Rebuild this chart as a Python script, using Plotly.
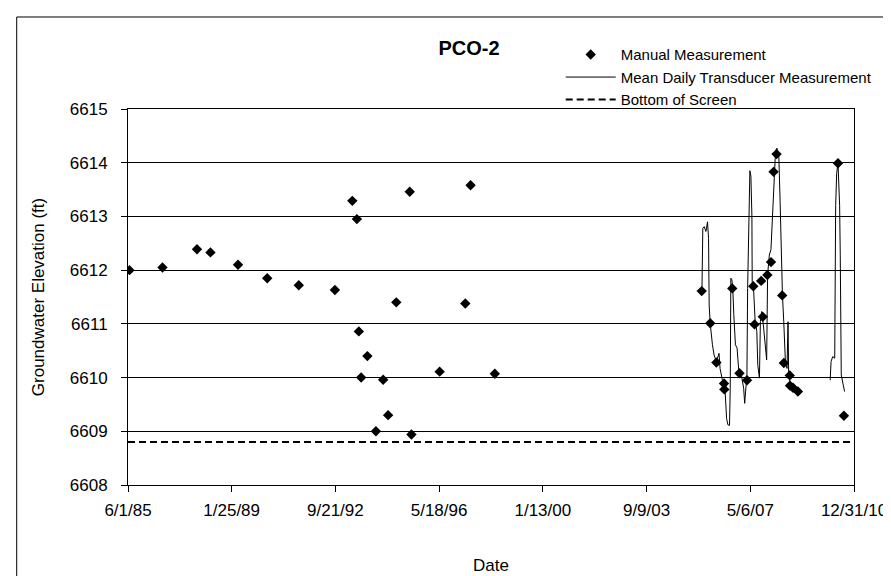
import plotly.graph_objects as go

# manual water level readings (date, elevation ft)
manual_dates = [
    "1985-06-20", "1986-08-19", "1987-11-06", "1988-04-27", "1989-04-17",
    "1990-04-28", "1991-06-08", "1992-09-15", "1993-04-27", "1993-06-25",
    "1993-07-20", "1993-11-07", "1993-08-19", "1994-05-29", "1994-08-01",
    "1994-02-25", "1994-11-14", "1995-05-06", "1995-05-28", "1996-05-25",
    "1997-06-27", "1997-04-20", "1998-05-05",
    "2005-08-19", "2005-12-07", "2006-02-24", "2006-06-02", "2006-06-06",
    "2006-09-16", "2006-12-18", "2007-03-25", "2007-06-14", "2007-06-30",
    "2007-09-23", "2007-10-14", "2007-12-12", "2008-01-28", "2008-03-01",
    "2008-04-08", "2008-06-20", "2008-07-11", "2008-09-25", "2008-09-28",
    "2008-11-06", "2009-01-08", "2010-06-08", "2010-08-23",
]
manual_elev = [
    6612.00, 6612.05, 6612.39, 6612.33, 6612.10,
    6611.85, 6611.72, 6611.63, 6613.29, 6612.95,
    6610.86, 6610.40, 6610.00, 6609.96, 6609.30,
    6609.00, 6611.40, 6613.46, 6608.94, 6610.11,
    6613.58, 6611.38, 6610.07,
    6611.61, 6611.01, 6610.28, 6609.89, 6609.78,
    6611.66, 6610.08, 6609.95, 6611.70, 6610.99,
    6611.80, 6611.13, 6611.91, 6612.15, 6613.83,
    6614.16, 6611.53, 6610.27, 6610.04, 6609.85,
    6609.81, 6609.74, 6613.99, 6609.29,
]

# mean daily transducer record, None = data gap
transducer_dates = [
    "2005-08-22", "2005-09-02", "2005-09-21", "2005-10-12", "2005-11-02",
    "2005-11-15", "2005-11-23", "2005-12-06", "2006-01-04", "2006-01-25",
    "2006-02-24", "2006-03-30", "2006-04-12", "2006-05-11", "2006-06-14",
    "2006-06-22", "2006-07-05", "2006-07-22", "2006-08-12", "2006-08-21",
    "2006-08-29", "2006-09-11", "2006-09-23", "2006-10-06", "2006-10-27",
    "2006-11-17", "2006-12-08", "2007-01-11", "2007-02-10", "2007-02-23",
    "2007-03-11", "2007-03-24", "2007-04-02", "2007-04-14", "2007-05-01",
    "2007-05-14", "2007-05-27", "2007-05-31", "2007-06-17", "2007-07-08",
    "2007-07-29", "2007-08-11", "2007-09-01", "2007-09-13", "2007-09-30",
    "2007-10-21", "2007-11-12", "2007-12-03", "2007-12-15", "2008-01-06",
    "2008-01-27", "2008-02-13", "2008-02-25", "2008-03-09", "2008-03-26",
    "2008-04-12", "2008-05-07", "2008-05-24", "2008-06-10", "2008-06-23",
    "2008-07-10", "2008-07-31", "2008-08-21", "2008-09-03", "2008-09-11",
    "2008-10-02", "2008-11-05", "2008-12-17", "2009-01-28",
    None,
    "2010-02-27", "2010-03-11", "2010-04-01", "2010-04-27", "2010-05-09",
    "2010-05-22", "2010-06-08", "2010-06-21", "2010-06-29", "2010-07-07",
    "2010-07-20", "2010-08-15", "2010-09-01",
]
transducer_elev = [
    6611.60, 6612.78, 6612.81, 6612.72, 6612.90,
    6612.59, 6611.35, 6611.01, 6610.61, 6610.42,
    6610.30, 6610.45, 6610.17, 6609.96, 6609.80,
    6609.55, 6609.24, 6609.12, 6609.11, 6609.80,
    6611.85, 6611.82, 6611.66, 6611.17, 6610.61,
    6610.55, 6610.14, 6610.05, 6609.80, 6609.52,
    6609.86, 6610.05, 6611.66, 6613.00, 6613.85,
    6613.75, 6613.00, 6611.72, 6611.66, 6611.04,
    6610.86, 6610.23, 6609.99, 6611.04, 6611.23,
    6610.98, 6610.61, 6610.33, 6611.91, 6612.28,
    6612.38, 6612.90, 6613.28, 6613.83, 6614.21,
    6614.27, 6614.14, 6613.28, 6612.10, 6611.54,
    6611.04, 6610.30, 6610.17, 6611.04, 6610.05,
    6609.89, 6609.83, 6609.77, 6609.71,
    None,
    6609.95, 6610.30, 6610.39, 6610.36, 6613.20,
    6613.80, 6614.00, 6613.60, 6613.20, 6612.28,
    6610.05, 6609.86, 6609.74,
]

screen_dates = ["1985-06-01", "2010-12-31"]
screen_elev = [6608.8, 6608.8]

tick_dates = ["1985-06-01", "1989-01-25", "1992-09-21", "1996-05-18",
              "2000-01-13", "2003-09-09", "2007-05-06", "2010-12-31"]
tick_labels = ["6/1/85", "1/25/89", "9/21/92", "5/18/96",
               "1/13/00", "9/9/03", "5/6/07", "12/31/10"]

FONT = "Arial, 'Liberation Sans', sans-serif"

fig = go.Figure()

fig.add_trace(go.Scatter(
    x=screen_dates, y=screen_elev, mode="lines", name="Bottom of Screen",
    line=dict(color="black", width=2, dash="7px,4px"), legendrank=3))

fig.add_trace(go.Scatter(
    x=transducer_dates, y=transducer_elev, mode="lines",
    name="Mean Daily Transducer Measurement",
    line=dict(color="black", width=1), connectgaps=False, legendrank=2))

fig.add_trace(go.Scatter(
    x=manual_dates, y=manual_elev, mode="markers", name="Manual Measurement",
    marker=dict(symbol="diamond", size=8, color="black"), legendrank=1))

fig.update_layout(
    width=891, height=576,
    margin=dict(l=120, r=34, t=101, b=99),
    paper_bgcolor="white", plot_bgcolor="white",
    font=dict(family=FONT, size=16, color="black"),
    title=dict(text="<b>PCO-2</b>", x=461 / 891, xanchor="center",
               y=1 - 40 / 576, yanchor="middle",
               font=dict(size=20, family=FONT)),
    legend=dict(x=0.596, xanchor="left", y=1.188, yanchor="top",
                bgcolor="rgba(0,0,0,0)", itemwidth=50,
                font=dict(size=15, family=FONT), tracegroupgap=0),
    shapes=[
        dict(type="line", xref="paper", yref="paper",
             x0=-0.1533, x1=1.1, y0=1.2447, y1=1.2447,
             line=dict(color="black", width=1)),
        dict(type="line", xref="paper", yref="paper",
             x0=-0.1533, x1=-0.1533, y0=-0.3, y1=1.2447,
             line=dict(color="black", width=1)),
    ],
)

fig.update_xaxes(
    type="date", range=["1985-06-01", "2010-12-31"],
    tickmode="array", tickvals=tick_dates, ticktext=tick_labels,
    ticks="outside", ticklen=6, tickcolor="black", ticklabelstandoff=4,
    showline=True, linecolor="black", linewidth=1, mirror=True,
    showgrid=False, zeroline=False,
    tickfont=dict(size=17, family=FONT),
    title=dict(text="Date", font=dict(size=17, family=FONT), standoff=39),
)

fig.update_yaxes(
    range=[6608, 6615], dtick=1, tickformat="d",
    ticks="outside", ticklen=6, tickcolor="black", ticklabelstandoff=10,
    showline=True, linecolor="black", linewidth=1, mirror=True,
    showgrid=True, gridcolor="black", gridwidth=1, zeroline=False,
    tickfont=dict(size=17, family=FONT),
    title=dict(text="Groundwater Elevation (ft)",
               font=dict(size=17, family=FONT), standoff=20),
)

fig.write_html("out.html")
